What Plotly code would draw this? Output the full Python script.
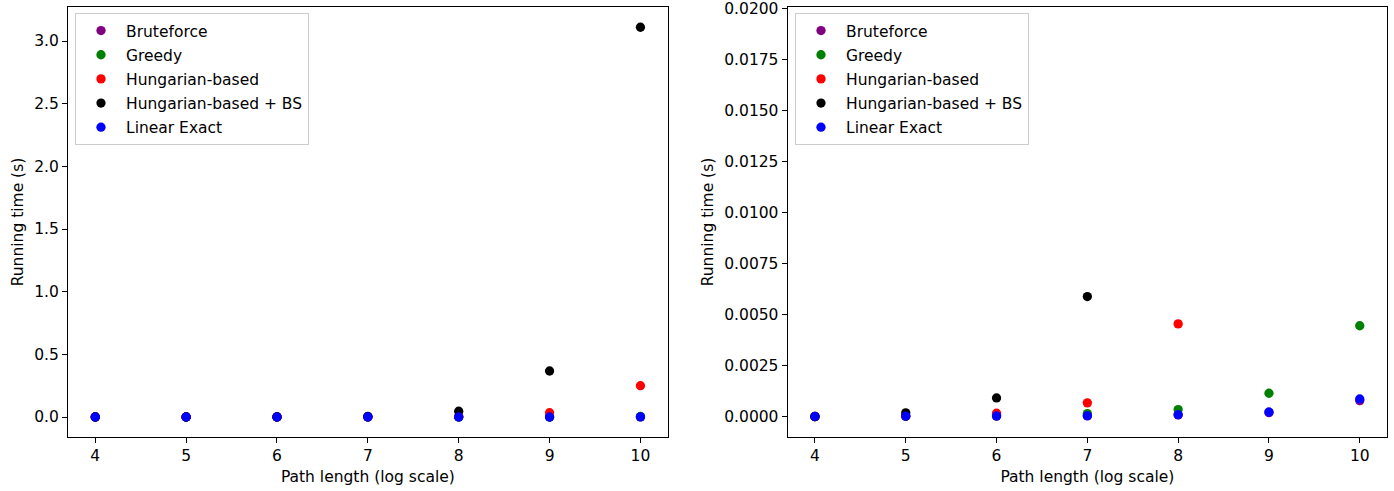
import plotly.graph_objects as go
from plotly.subplots import make_subplots

# ---- data ----
path_length = [4, 5, 6, 7, 8, 9, 10]
bruteforce = [0.00001, 0.00003, 0.00004, 0.00005, 0.00010, 0.00021, 0.00080]
greedy = [0.00001, 0.00003, 0.00006, 0.00016, 0.00036, 0.00116, 0.00447]
hungarian = [0.00002, 0.00005, 0.00018, 0.00069, 0.00456, 0.034, 0.25]
hungarian_bs = [0.00002, 0.00020, 0.00093, 0.0059, 0.046, 0.367, 3.11]
linear_exact = [0.00002, 0.00004, 0.00005, 0.00006, 0.00011, 0.00024, 0.00088]

series_names = ["Bruteforce", "Greedy", "Hungarian-based", "Hungarian-based + BS", "Linear Exact"]
series_values = [bruteforce, greedy, hungarian, hungarian_bs, linear_exact]
series_colors = ["#800080", "#008000", "#ff0000", "#000000", "#0000ff"]

left_yticks = [0.0, 0.5, 1.0, 1.5, 2.0, 2.5, 3.0]
right_yticks = [0.0, 0.0025, 0.005, 0.0075, 0.01, 0.0125, 0.015, 0.0175, 0.02]
x_ticks = [4, 5, 6, 7, 8, 9, 10]

W, H = 1394, 491
FONT = "DejaVu Sans"
FS = 15.5

fig = make_subplots(rows=1, cols=2)

for col, leg in [(1, "legend"), (2, "legend2")]:
    for i, (name, vals, color) in enumerate(zip(series_names, series_values, series_colors)):
        fig.add_trace(
            go.Scatter(
                x=path_length, y=vals, mode="markers", name=name,
                marker=dict(color=color, size=9.3, line=dict(width=0)),
                legend=leg, legendgroup=f"{leg}_{i}",
            ),
            row=1, col=col,
        )

def px_x(p):
    return p / W

def px_y(p):
    return 1 - p / H

axis_common = dict(
    showline=True, linecolor="black", linewidth=1.2, mirror=True,
    ticks="outside", ticklen=5, tickwidth=1.2, tickcolor="black",
    showgrid=False, zeroline=False, automargin=False,
    tickfont=dict(family=FONT, size=FS, color="black"),
)

fig.update_xaxes(**axis_common, range=[3.7, 10.3], tickvals=x_ticks,
                 title=dict(text="Path length (log scale)", font=dict(family=FONT, size=FS, color="black"), standoff=6))
fig.update_xaxes(domain=[px_x(68), px_x(667.7)], row=1, col=1)
fig.update_xaxes(domain=[px_x(787.7), px_x(1387)], row=1, col=2)

fig.update_yaxes(**axis_common)
fig.update_yaxes(domain=[px_y(436.7), px_y(7.3)], row=1, col=1,
                 range=[-0.157, 3.269], tickvals=left_yticks, tickformat=".1f",
                 title=dict(text="Running time (s)", font=dict(family=FONT, size=FS, color="black"), standoff=6))
fig.update_yaxes(domain=[px_y(436.7), px_y(7.3)], row=1, col=2,
                 range=[-0.00097, 0.02008], tickvals=right_yticks, tickformat=".4f",
                 title=dict(text="Running time (s)", font=dict(family=FONT, size=FS, color="black"), standoff=6))

legend_common = dict(
    xanchor="left", yanchor="top",
    bgcolor="rgba(255,255,255,0.8)", bordercolor="#cccccc", borderwidth=1,
    font=dict(family=FONT, size=FS, color="black"),
    tracegroupgap=1, itemsizing="trace", itemwidth=40,
)

fig.update_layout(
    width=W, height=H,
    margin=dict(l=0, r=0, t=0, b=0),
    paper_bgcolor="white", plot_bgcolor="white",
    font=dict(family=FONT, size=FS, color="black"),
    legend=dict(x=px_x(75), y=px_y(13), **legend_common),
    legend2=dict(x=px_x(795), y=px_y(13), **legend_common),
)

fig.write_html("out.html", config={"displayModeBar": False},
               post_script="document.body.style.margin='0';")
